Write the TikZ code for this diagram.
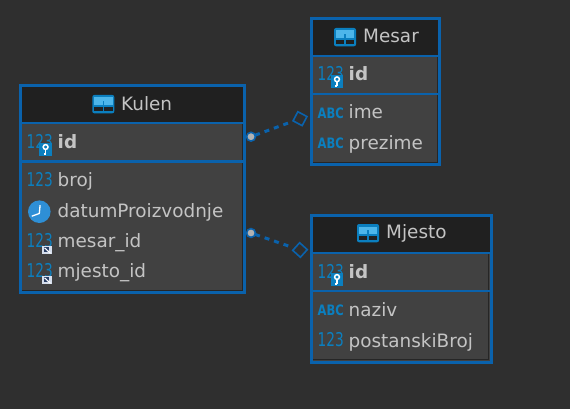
\documentclass[tikz,border=0pt]{standalone}
\usepackage{graphicx}
\usepackage{fontspec}
\setmainfont{DejaVu Sans}
\usetikzlibrary{shapes.geometric}
\definecolor{bgc}{HTML}{2F2F2F}
\definecolor{headc}{HTML}{202020}
\definecolor{rowc}{HTML}{414141}
\definecolor{shadowc}{HTML}{262626}
\definecolor{edgec}{HTML}{0A62AC}
\definecolor{txtc}{HTML}{C4C4C4}
\definecolor{icoc}{HTML}{0B7FBF}
\definecolor{icol}{HTML}{4DB6EA}
\definecolor{clockc}{HTML}{2E8FD6}
\definecolor{fklight}{HTML}{D5DEEC}
\definecolor{fkdark}{HTML}{2A3F66}
\tikzset{
  tablebox/.style={draw=edgec,line width=3.2pt,fill=rowc,anchor=north west,inner sep=0pt,outer sep=0pt},
  divider/.style={draw=edgec,line width=2.4pt},
  innershade/.style={draw=shadowc,line width=1pt},
  title/.style={text=txtc,font=\fontsize{18.4}{20}\selectfont,anchor=base west,inner sep=0pt,yshift=-0.5pt},
  colname/.style={text=txtc,font=\fontsize{18.4}{20}\selectfont,anchor=base west,inner sep=0pt,yshift=-0.7pt},
  pkname/.style={text=txtc,font=\fontsize{18.4}{20}\selectfont\bfseries,anchor=base west,inner sep=0pt,yshift=-0.7pt},
  numicon/.style={text=icoc,font=\fontsize{19}{20}\selectfont,anchor=base west,inner sep=0pt},
  abcicon/.style={text=icoc,font=\fontsize{11.5}{12}\selectfont\bfseries,anchor=base west,inner sep=0pt},
  endcircle/.style={circle,fill=black!30!white,draw=edgec,line width=1.6pt,minimum size=8.8pt,inner sep=0pt,outer sep=0pt},
  enddiamond/.style={rectangle,draw=edgec,line width=1.6pt,minimum size=10.3pt,inner sep=0pt,outer sep=0pt,fill=bgc},
  relline/.style={draw=edgec,line width=3pt,dash pattern=on 5pt off 5pt},
}
\newcommand{\numtext}{\scalebox{0.72}[1]{123}}
\newcommand{\abctext}{\scalebox{1}[1.25]{ABC}}
% icons: x = left, y = centre
\newcommand{\tblicon}[2]{%
  \begin{scope}[shift={(#1,#2)}]
    \fill[icoc,rounded corners=2pt] (0,-9) rectangle (22,9.3);
    \fill[icol] (1.7,-6.5) rectangle (20.3,1);
    \fill[icoc] (10.4,-3) rectangle (11.6,1);
    \fill[headc] (1.7,2.8) rectangle (10.3,7.2);
    \fill[headc] (11.7,2.8) rectangle (20.3,7.2);
  \end{scope}}
\newcommand{\keybadge}[2]{%
  \begin{scope}[shift={(#1,#2)}]
    \fill[icoc] (0,0) rectangle (12.7,13);
    \draw[white,line width=1.5pt] (6.3,4) circle (2.4pt);
    \draw[white,line width=1.5pt] (6.3,6.5) -- (6.3,11.2) (6.3,10.8) -- (4.2,10.8);
  \end{scope}}
\newcommand{\fkbadge}[2]{%
  \begin{scope}[shift={(#1,#2)}]
    \fill[fklight] (0,0) rectangle (9.7,8.7);
    \fill[fkdark] (1.5,1.3) rectangle (7,6);
    \draw[white,line width=1.1pt] (2.3,2.2) -- (8.2,7.6);
  \end{scope}}
\newcommand{\clockicon}[2]{%
  \begin{scope}[shift={(#1,#2)}]
    \fill[clockc] (0,0) circle (11.3pt);
    \draw[white,line width=1.3pt,line join=round] (0.8,-6.6) -- (0,1.8) -- (-7.5,4.5);
  \end{scope}}
\begin{document}
\begin{tikzpicture}[x=1pt,y=-1pt]
\useasboundingbox (0,0) rectangle (570,409);
\fill[bgc] (0,0) rectangle (570,409);

% ---- Kulen
\node[tablebox,minimum width=223.5pt,minimum height=206.5pt] (kulen) at (20.6,85.6) {};
\fill[headc] (22,87) rectangle (243,122);
\draw[innershade] (242.1,124) -- (242.1,290.3) -- (22,290.3);
\draw[divider] (kulen.west |- 0,123) -- (kulen.east |- 0,123);
\draw[divider] (kulen.west |- 0,161.3) -- (kulen.east |- 0,161.3);
\tblicon{92.3}{104}
\node[title] (kulenT) at (121,109.7) {Kulen};
\node[numicon] (k1i) at (26.5,149) {\numtext};
\keybadge{39.3}{143}
\node[pkname] (k1) at (57.5,147.7) {id};
\node[numicon] (k2i) at (26.5,186) {\numtext};
\node[colname] (k2) at (57.5,186) {broj};
\clockicon{39.3}{211.7}
\node[colname] (k3) at (57.5,216.3) {datumProizvodnje};
\node[numicon] (k4i) at (26.5,247.3) {\numtext};
\fkbadge{42.3}{245.7}
\node[colname] (k4) at (57.5,246.7) {mesar\_id};
\node[numicon] (k5i) at (26.5,277.3) {\numtext};
\fkbadge{42.3}{275.7}
\node[colname] (k5) at (57.5,277) {mjesto\_id};

% ---- Mesar
\node[tablebox,minimum width=127.8pt,minimum height=146pt] (mesar) at (311.6,18.6) {};
\fill[headc] (313,20) rectangle (438,55);
\draw[innershade] (437.2,57) -- (437.2,162.4) -- (313,162.4);
\draw[divider] (mesar.west |- 0,56) -- (mesar.east |- 0,56);
\draw[divider] (mesar.west |- 0,94) -- (mesar.east |- 0,94);
\tblicon{334}{37}
\node[title] (mesarT) at (363,42.3) {Mesar};
\node[numicon] (m1i) at (317.5,80.7) {\numtext};
\keybadge{330.7}{75.3}
\node[pkname] (m1) at (348.5,80) {id};
\node[abcicon] (m2i) at (317.5,118.3) {\abctext};
\node[colname] (m2) at (348.5,118.3) {ime};
\node[abcicon] (m3i) at (317.5,149) {\abctext};
\node[colname] (m3) at (348.5,149) {prezime};

% ---- Mjesto
\node[tablebox,minimum width=179.5pt,minimum height=146.5pt] (mjesto) at (311.6,215.6) {};
\fill[headc] (313,217) rectangle (490,252);
\draw[innershade] (488.8,254) -- (488.8,359) -- (313,359);
\draw[divider] (mjesto.west |- 0,253.2) -- (mjesto.east |- 0,253.2);
\draw[divider] (mjesto.west |- 0,291.2) -- (mjesto.east |- 0,291.2);
\tblicon{357}{233}
\node[title] (mjestoT) at (386,238.3) {Mjesto};
\node[numicon] (j1i) at (317.5,278) {\numtext};
\keybadge{330.7}{273}
\node[pkname] (j1) at (348.5,277.7) {id};
\node[abcicon] (j2i) at (317.5,315.7) {\abctext};
\node[colname] (j2) at (348.5,315.7) {naziv};
\node[numicon] (j3i) at (317.5,346.7) {\numtext};
\node[colname] (j3) at (348.5,346.3) {postanskiBroj};

% ---- relations
\node[enddiamond,rotate=-28] (d1) at (300,118.7) {};
\node[endcircle] (c1) at (251,136.7) {};
\draw[relline,shorten >=3pt] (c1) -- (d1);
\node[enddiamond,rotate=-42] (d2) at (300,250) {};
\node[endcircle] (c2) at (251,233) {};
\draw[relline,shorten >=3pt] (c2) -- (d2);
\end{tikzpicture}
\end{document}
